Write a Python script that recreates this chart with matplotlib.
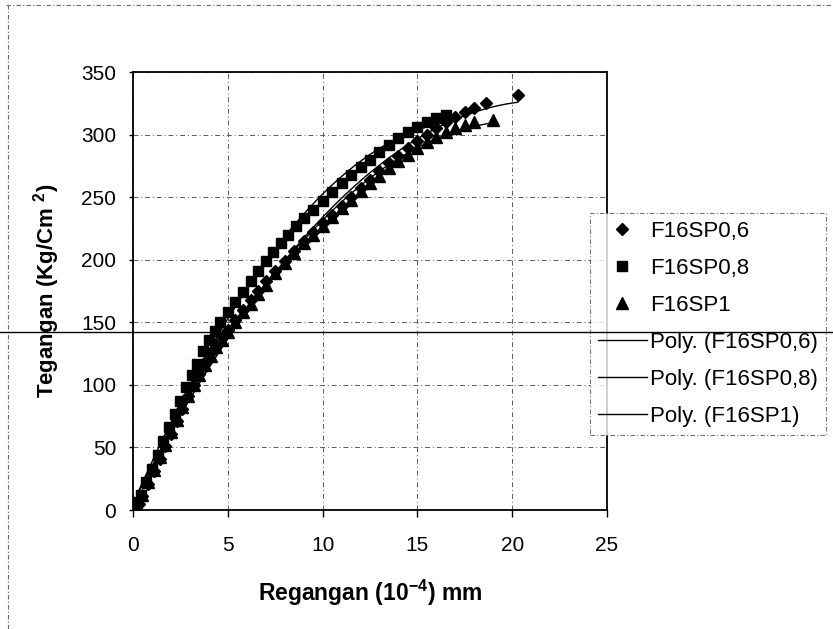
import matplotlib.pyplot as plt
import numpy as np
from matplotlib.lines import Line2D

plt.rcParams['font.family'] = ['Liberation Sans', 'DejaVu Sans']
plt.rcParams['mathtext.default'] = 'regular'

# data
x_sp06 = [0.3, 0.5, 0.8, 1.1, 1.4, 1.7, 2.0, 2.3, 2.6, 2.9, 3.2, 3.5, 3.8, 4.1, 4.4, 4.7,
          5.0, 5.4, 5.8, 6.2, 6.6, 7.0, 7.5, 8.0, 8.5, 9.0, 9.5, 10.0, 10.5, 11.0, 11.5,
          12.0, 12.5, 13.0, 13.5, 14.0, 14.5, 15.0, 15.5, 16.0, 16.5, 17.0, 17.5, 18.0,
          18.6, 20.3]
y_sp06 = [5, 11, 21, 31, 41, 51, 61, 71, 81, 91, 100, 109, 118, 126, 132, 138,
          144, 152, 160, 168, 175, 183, 191, 199, 207, 215, 222, 229, 236, 243, 250,
          257, 264, 271, 277, 283, 289, 295, 300, 305, 310, 314, 318, 321,
          325, 332]

x_sp08 = [0.2, 0.4, 0.7, 1.0, 1.3, 1.6, 1.9, 2.2, 2.5, 2.8, 3.1, 3.4, 3.7, 4.0, 4.3, 4.6,
          5.0, 5.4, 5.8, 6.2, 6.6, 7.0, 7.4, 7.8, 8.2, 8.6, 9.0, 9.5, 10.0, 10.5, 11.0,
          11.5, 12.0, 12.5, 13.0, 13.5, 14.0, 14.5, 15.0, 15.5, 16.0, 16.5]
y_sp08 = [6, 12, 22, 33, 44, 55, 66, 77, 87, 98, 108, 117, 127, 136, 143, 150,
          158, 166, 174, 183, 191, 199, 206, 213, 220, 227, 233, 240, 247, 254, 261,
          268, 274, 280, 286, 292, 297, 302, 306, 310, 313, 316]

x_sp1 = [0.2, 0.5, 0.8, 1.1, 1.4, 1.7, 2.0, 2.3, 2.6, 2.9, 3.2, 3.5, 3.8, 4.1, 4.4, 4.7,
         5.0, 5.4, 5.8, 6.2, 6.6, 7.0, 7.5, 8.0, 8.5, 9.0, 9.5, 10.0, 10.5, 11.0, 11.5,
         12.0, 12.5, 13.0, 13.5, 14.0, 14.5, 15.0, 15.5, 16.0, 16.5, 17.0, 17.5, 18.0, 19.0]
y_sp1 = [4, 12, 22, 32, 42, 52, 62, 72, 82, 91, 100, 108, 116, 123, 130, 136,
         142, 150, 158, 165, 173, 180, 189, 197, 205, 213, 220, 227, 234, 241, 248,
         255, 261, 267, 273, 279, 284, 289, 294, 298, 302, 305, 308, 310, 312]

labels = ['F16SP0,6', 'F16SP0,8', 'F16SP1']
x_ticks = [0, 5, 10, 15, 20, 25]
y_ticks = [0, 50, 100, 150, 200, 250, 300, 350]

fig = plt.figure(figsize=(8.33, 6.29), dpi=100)
ax = fig.add_axes([133/833, 1-510/629, (607-133)/833, (510-72)/629])

series = [(x_sp06, y_sp06, 'D', 6.5), (x_sp08, y_sp08, 's', 6.5), (x_sp1, y_sp1, '^', 8)]
for (xs, ys, m, ms), lab in zip(series, labels):
    ax.plot(xs, ys, linestyle='none', marker=m, markersize=ms, color='black', zorder=3)
    # polynomial trendline (2nd order like Excel)
    c = np.polyfit(xs, ys, 2)
    xx = np.linspace(min(xs), max(xs), 200)
    ax.plot(xx, np.polyval(c, xx), color='black', lw=1, zorder=2)

ax.set_xlim(0, 25)
ax.set_ylim(0, 350)
ax.set_xticks(x_ticks)
ax.set_yticks(y_ticks)
ax.tick_params(labelsize=15, direction='out', width=1)
ax.tick_params(axis='x', length=5, pad=14)
ax.tick_params(axis='y', length=3, pad=9)
ax.grid(True, color='0.35', linestyle=(0, (5, 3, 1, 3)), linewidth=0.7)
for s in ax.spines.values():
    s.set_linewidth(1.3)

ax.set_xlabel(r'Regangan (10$^{-4}$) mm', fontsize=16.5, fontweight='bold', labelpad=16)
ax.set_ylabel(r'Tegangan (Kg/Cm $^{2}$)', fontsize=16, fontweight='bold', labelpad=14)

# legend
handles = [Line2D([], [], linestyle='none', marker='D', markersize=6.5, color='black'),
           Line2D([], [], linestyle='none', marker='s', markersize=6.5, color='black'),
           Line2D([], [], linestyle='none', marker='^', markersize=8, color='black'),
           Line2D([], [], color='black', lw=1),
           Line2D([], [], color='black', lw=1),
           Line2D([], [], color='black', lw=1)]
leg_labels = labels + ['Poly. (%s)' % l for l in labels]
leg = fig.legend(handles, leg_labels, loc='upper left', bbox_to_anchor=(590/833, 1-213/629),
                 fontsize=16, frameon=True, fancybox=False, edgecolor='0.3',
                 handlelength=2.2, handletextpad=0.15, labelspacing=0.72, borderpad=0.36,
                 borderaxespad=0)
leg.get_frame().set_linestyle((0, (4, 2, 1, 2)))
leg.get_frame().set_linewidth(0.8)

# scan artefacts: straight line across the page, dashed outer border
fig.add_artist(Line2D([0, 1], [1-332/629, 1-332/629], transform=fig.transFigure,
                      color='black', lw=1, zorder=10))
fig.add_artist(Line2D([6/833, 1], [1-5/629, 1-5/629], transform=fig.transFigure,
                      color='0.4', lw=0.8, linestyle=(0, (4, 2, 1, 2))))
fig.add_artist(Line2D([8/833, 8/833], [0, 1-5/629], transform=fig.transFigure,
                      color='0.4', lw=0.8, linestyle=(0, (4, 2, 1, 2))))

fig.savefig('out.png', dpi=100)
